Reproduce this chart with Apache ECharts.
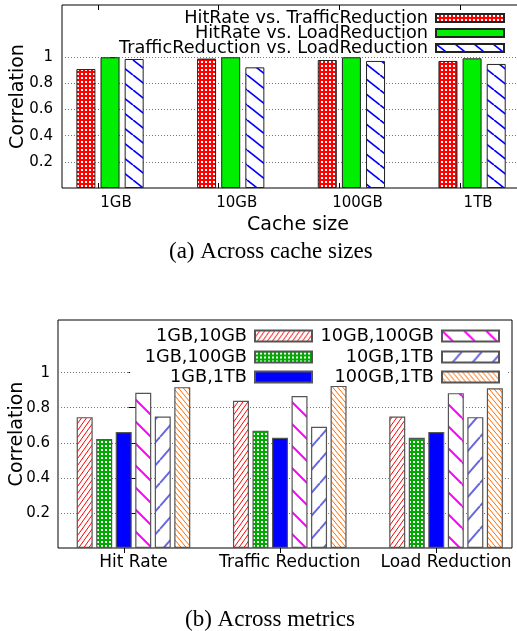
<!DOCTYPE html>
<html><head><meta charset="utf-8">
<script src="https://cdn.jsdelivr.net/npm/echarts@6/dist/echarts.min.js"></script>
<style>html,body{margin:0;padding:0;background:#fff}#c{width:517px;height:631px}</style>
</head><body><div id="c"></div>
<script>
// ---- data: chart (a) ----
const sizeCategories = ['1GB', '10GB', '100GB', '1TB'];
const seriesNamesA = ['HitRate vs. TrafficReduction', 'HitRate vs. LoadReduction', 'TrafficReduction vs. LoadReduction'];
const hitVsTraffic = [0.910, 0.990, 0.979, 0.972];
const hitVsLoad = [1.000, 1.000, 1.000, 0.992];
const trafficVsLoad = [0.987, 0.923, 0.972, 0.949];
// ---- data: chart (b) ----
const metricCategories = ['Hit Rate', 'Traffic Reduction', 'Load Reduction'];
const pairNames = ['1GB,10GB', '1GB,100GB', '1GB,1TB', '10GB,100GB', '10GB,1TB', '100GB,1TB'];
const pair1GB10GB = [0.746, 0.839, 0.750];
const pair1GB100GB = [0.621, 0.669, 0.629];
const pair1GB1TB = [0.661, 0.629, 0.661];
const pair10GB100GB = [0.885, 0.866, 0.883];
const pair10GB1TB = [0.750, 0.691, 0.746];
const pair100GB1TB = [0.917, 0.925, 0.911];
// ---- tick labels ----
const yTickValues = [0.2, 0.4, 0.6, 0.8, 1];
const captionA = '(a) Across cache sizes';
const captionB = '(b) Across metrics';
const yName = 'Correlation';
const xNameA = 'Cache size';

// ---- fill patterns ----
function hatch(color, w, h, lw, dir) {
  const c = document.createElement('canvas'); c.width = w; c.height = h;
  const g = c.getContext('2d');
  g.fillStyle = '#fff'; g.fillRect(0, 0, w, h);
  g.strokeStyle = color; g.lineWidth = lw;
  for (const dx of [-w, 0, w]) {
    g.beginPath();
    if (dir === 'back') { g.moveTo(dx, 0); g.lineTo(dx + w, h); }
    else { g.moveTo(dx, h); g.lineTo(dx + w, 0); }
    g.stroke();
  }
  return { image: c, repeat: 'repeat' };
}
function checker(color) {
  const c = document.createElement('canvas'); c.width = 4; c.height = 4;
  const g = c.getContext('2d');
  g.fillStyle = color; g.fillRect(0, 0, 4, 4);
  g.fillStyle = '#fff';
  g.fillRect(1, 1, 2, 2);
  return { image: c, repeat: 'repeat' };
}

const FONT = 'DejaVu Sans';
const fillsA = [checker('#ff0000'), '#00ee00', hatch('#0000ff', 19, 15, 1.7, 'back')];
const valuesA = [hitVsTraffic, hitVsLoad, trafficVsLoad];
const fillsB = [
  hatch('#ff0000', 5, 7, 1, 'fwd'),
  checker('#00aa00'),
  '#0000ff',
  hatch('#ff00ff', 22, 22, 2, 'back'),
  hatch('#6868e0', 20, 23, 2, 'fwd'),
  hatch('#ff6a00', 5, 6, 1, 'back')
];
const valuesB = [pair1GB10GB, pair1GB100GB, pair1GB1TB, pair10GB100GB, pair10GB1TB, pair100GB1TB];

const series = [];
seriesNamesA.forEach((n, k) => series.push({
  type: 'bar', name: n, xAxisIndex: 0, yAxisIndex: 0,
  data: valuesA[k].map((v, i) => [i, v]),
  barWidth: 19, barGap: '27%',
  itemStyle: { color: fillsA[k], borderColor: '#222', borderWidth: 1 }
}));
pairNames.forEach((n, k) => series.push({
  type: 'bar', name: n, xAxisIndex: 2, yAxisIndex: 1,
  data: valuesB[k].map((v, i) => [i, v]),
  barWidth: 16, barGap: '22%',
  itemStyle: { color: fillsB[k], borderColor: '#555', borderWidth: 1.2 }
}));

function legendItem(name, right, top, extra) {
  return Object.assign({
    data: [name], right: right, top: top, orient: 'horizontal', align: 'right',
    icon: 'rect', selectedMode: false, padding: 0,
    textStyle: { fontFamily: FONT, fontSize: 17.7, color: '#000', padding: [0, 3, 0, 0] }
  }, extra || {});
}
const legends = [
  legendItem(seriesNamesA[0], 12, 9, { itemWidth: 68, itemHeight: 8 }),
  legendItem(seriesNamesA[1], 12, 24, { itemWidth: 68, itemHeight: 8 }),
  legendItem(seriesNamesA[2], 12, 39, { itemWidth: 68, itemHeight: 8 }),
  legendItem(pairNames[0], 204, 327, { itemWidth: 57, itemHeight: 11, backgroundColor: '#fff' }),
  legendItem(pairNames[1], 204, 348, { itemWidth: 57, itemHeight: 11, backgroundColor: '#fff' }),
  legendItem(pairNames[2], 204, 366, { itemWidth: 57, itemHeight: 11, backgroundColor: '#fff', padding: [2, 0, 0, 40] }),
  legendItem(pairNames[3], 17, 327, { itemWidth: 57, itemHeight: 11, backgroundColor: '#fff' }),
  legendItem(pairNames[4], 17, 348, { itemWidth: 57, itemHeight: 11, backgroundColor: '#fff' }),
  legendItem(pairNames[5], 9, 366, { itemWidth: 57, itemHeight: 11, backgroundColor: '#fff', padding: [2, 8, 0, 24] })
];

const tickStyle = { show: true, inside: true, length: 5, lineStyle: { color: '#000', width: 1 } };
function xBottom(grid, min, max, tickVals, labelVals, cats, fontSize, margin, pad, extra) {
  return Object.assign({
    type: 'value', gridIndex: grid, position: 'bottom', min: min, max: max,
    axisLine: { show: false },
    axisTick: Object.assign({ customValues: tickVals }, tickStyle),
    axisLabel: { customValues: labelVals, formatter: v => cats[Math.round(v)], fontFamily: FONT,
      fontSize: fontSize, color: '#000', margin: margin, padding: pad },
    splitLine: { show: false }
  }, extra || {});
}
function xTop(grid, min, max, tickVals) {
  return { type: 'value', gridIndex: grid, position: 'top', min: min, max: max,
    axisLine: { show: false }, axisLabel: { show: false }, splitLine: { show: false },
    axisTick: Object.assign({ customValues: tickVals }, tickStyle) };
}
function yLeft(grid, max, nameGap, margin) {
  return {
    type: 'value', gridIndex: grid, position: 'left', min: 0, max: max,
    name: yName, nameLocation: 'middle', nameGap: nameGap, nameMoveOverlap: false,
    nameTextStyle: { fontFamily: FONT, fontSize: 19, color: '#000' },
    axisLine: { show: false },
    axisTick: Object.assign({ customValues: yTickValues }, tickStyle),
    axisLabel: { customValues: yTickValues, fontFamily: FONT, fontSize: 15, color: '#000', margin: margin },
    splitLine: { show: true, customValues: yTickValues, lineStyle: { type: [1, 2], color: '#777', width: 1 } }
  };
}

const option = {
  animation: false,
  backgroundColor: '#fff',
  title: [
    { text: captionA, left: 169, top: 240, padding: 0,
      textStyle: { fontFamily: 'Liberation Serif', fontSize: 23, fontWeight: 'normal', color: '#000' } },
    { text: captionB, left: 185, top: 608, padding: 0,
      textStyle: { fontFamily: 'Liberation Serif', fontSize: 23, fontWeight: 'normal', color: '#000' } }
  ],
  legend: legends,
  grid: [
    { left: 62, top: 5, width: 458, height: 183, show: true, borderColor: '#000', borderWidth: 1,
      backgroundColor: 'transparent', containLabel: false, outerBoundsMode: 'none' },
    { left: 58, top: 320, width: 454, height: 228, show: true, borderColor: '#000', borderWidth: 1,
      backgroundColor: 'transparent', containLabel: false, outerBoundsMode: 'none' }
  ],
  xAxis: [
    xBottom(0, -0.398, 3.397, [-0.1, 0.9, 1.9, 2.9], [0, 1, 2, 3], sizeCategories, 15, 8, [0, 0, 0, 12],
      { name: xNameA, nameLocation: 'middle', nameGap: 28, nameMoveOverlap: false,
        nameTextStyle: { fontFamily: FONT, fontSize: 19, color: '#000', padding: [0, 0, 0, 14] } }),
    xTop(0, -0.398, 3.397, [-0.1, 0.9, 1.9, 2.9]),
    xBottom(1, -0.483, 2.422, [-0.06, 0.94, 1.94], [0, 1, 2], metricCategories, 17, 6, 0),
    xTop(1, -0.483, 2.422, [-0.06, 0.94, 1.94])
  ],
  yAxis: [
    yLeft(0, 1.4, 34, 9),
    yLeft(1, 1.3, 31, 8),
    { type: 'value', gridIndex: 1, position: 'right', min: 0, max: 1.3,
      axisLine: { show: false }, axisLabel: { show: false }, splitLine: { show: false },
      axisTick: Object.assign({ customValues: yTickValues }, tickStyle) }
  ],
  series: series
};
const chart = echarts.init(document.getElementById('c'), null, { renderer: 'canvas' });
chart.setOption(option);
</script>
</body></html>
